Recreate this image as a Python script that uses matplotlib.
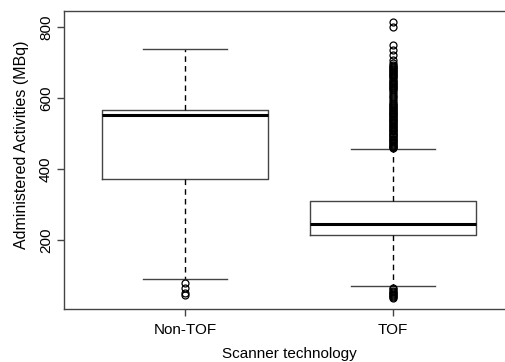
import matplotlib
matplotlib.use("Agg")
import matplotlib.pyplot as plt

plt.rcParams['font.family'] = ['Liberation Sans', 'DejaVu Sans']

groups = ["Non-TOF", "TOF"]
q1 = [372, 214]
median = [552, 245]
q3 = [566, 310]
whisker_low = [90, 71]
whisker_high = [737, 456]
fliers_nontof = [79, 66, 52, 45]
fliers_tof = [814, 800, 748, 735, 721, 708, 700, 694, 688, 682, 676, 670, 664,
              658, 652, 646, 640, 634, 628, 622, 617, 612, 607, 602, 597, 592,
              587, 582, 578, 574, 570, 566, 562, 558, 554, 550, 546, 542, 538,
              534, 530, 526, 522, 518, 514, 510, 506, 502, 498, 494, 490, 486,
              482, 478, 474, 470, 466, 462, 459,
              691, 685, 679, 673, 667, 661, 655, 649, 643, 637, 631, 625,
              580, 572, 564, 556, 548, 540, 532, 524, 516, 508, 500, 492,
              484, 476, 468, 461,
              66, 62, 58, 55, 52, 49, 46, 43, 40, 37]
fliers = [fliers_nontof, fliers_tof]

stats = []
for i, name in enumerate(groups):
    stats.append(dict(label=name, q1=q1[i], med=median[i], q3=q3[i],
                      whislo=whisker_low[i], whishi=whisker_high[i],
                      fliers=fliers[i]))

line_col = '#444444'
fig = plt.figure(figsize=(5.05, 3.62), dpi=100)
ax = fig.add_axes([64 / 505, 53 / 362, 450 / 505, 298 / 362])

ax.bxp(stats, positions=[1, 2], widths=0.8, capwidths=0.4,
       boxprops=dict(color=line_col, linewidth=1.0),
       medianprops=dict(color='black', linewidth=2.2),
       whiskerprops=dict(color='black', linewidth=1.0, linestyle=(0, (4, 3))),
       capprops=dict(color=line_col, linewidth=1.0),
       flierprops=dict(marker='o', markersize=5, markerfacecolor='none',
                       markeredgecolor='black', markeredgewidth=0.9))

ax.set_xlim(0.418, 2.582)
ax.set_ylim(6, 845)
ax.set_yticks([200, 400, 600, 800])
ax.set_yticklabels(['200', '400', '600', '800'], rotation=90, va='center')
ax.set_xticks([1, 2])
ax.set_xticklabels(groups)
ax.tick_params(axis='both', length=5, width=1.0, color=line_col,
               labelsize=11, pad=3)
ax.tick_params(axis='x', pad=5)
for s in ax.spines.values():
    s.set_color(line_col)
    s.set_linewidth(1.0)
ax.spines['right'].set_visible(False)

ax.set_xlabel("Scanner technology", fontsize=11)
ax.xaxis.set_label_coords(0.5, -0.128)
ax.set_ylabel("Administered Activities (MBq)", fontsize=11.5)
ax.yaxis.label.set_va('center')
ax.yaxis.set_label_coords(-0.095, 0.55)

fig.savefig("out.png", dpi=100)
